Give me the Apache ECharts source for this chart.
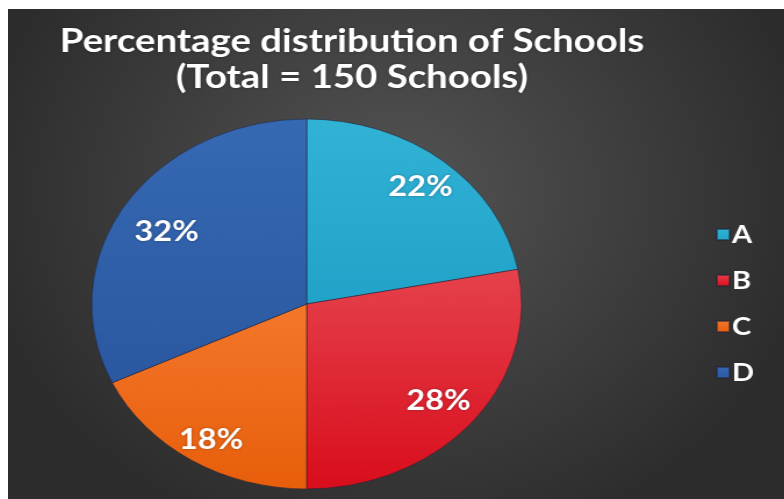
<!DOCTYPE html>
<html>
<head>
<meta charset="utf-8">
<script src="https://cdn.jsdelivr.net/npm/echarts@6/dist/echarts.min.js"></script>
<style>
  html, body { margin: 0; padding: 0; background: #ffffff; width: 784px; height: 499px; overflow: hidden; }
  #frame { position: absolute; left: 8px; top: 9px; width: 776px; height: 490px; overflow: hidden; }
  /* the slide is drawn a little wider than tall, so the pie reads as an ellipse */
  #chart { width: 668px; height: 490px; transform: scaleX(1.162); transform-origin: 0 0; }
</style>
</head>
<body>
<div id="frame"><div id="chart"></div></div>
<script>
// Share of the 150 schools in each category, in percent
const categories = ['A', 'B', 'C', 'D'];
const shares = [22, 28, 18, 32];

const titleLines = ['Percentage distribution of Schools', '(Total = 150 Schools)'];

// slice fills, top -> bottom shade
const sliceShades = [
  ['#31b3d6', '#21a2c8'],
  ['#e5424c', '#d90d1c'],
  ['#f4772a', '#e75e0b'],
  ['#3669b4', '#2b58a0']
];
// nudges that move each percentage label away from the default mid-radius spot
const labelNudge = [[37, -43], [40, 36], [-31, 55], [-40, -21]];

const chart = echarts.init(document.getElementById('chart'), null, { renderer: 'canvas' });

chart.setOption({
  animation: false,
  backgroundColor: {
    type: 'radial', x: 0.5, y: 0.38, r: 0.75,
    colorStops: [
      { offset: 0, color: '#545454' },
      { offset: 1, color: '#2c2c2c' }
    ]
  },
  title: {
    text: titleLines.join('\n'),
    left: 291,
    top: 9,
    textAlign: 'center',
    textStyle: {
      color: '#ffffff',
      fontFamily: 'Lato',
      fontWeight: 'bold',
      fontSize: 33,
      lineHeight: 36,
      textShadowColor: 'rgba(0,0,0,0.35)',
      textShadowBlur: 3
    }
  },
  legend: {
    orient: 'vertical',
    left: 604,
    top: 208,
    itemWidth: 11,
    itemHeight: 11,
    itemGap: 21,
    icon: 'rect',
    textStyle: {
      color: '#ffffff',
      fontFamily: 'Lato',
      fontWeight: 'bold',
      fontSize: 25,
      padding: [0, 0, 0, -3]
    },
    data: categories
  },
  series: [{
    type: 'pie',
    center: [257, 295],
    radius: 185,
    startAngle: 90,
    clockwise: true,
    avoidLabelOverlap: false,
    emphasis: { disabled: true },
    itemStyle: {
      borderColor: 'rgba(35,35,55,0.55)',
      borderWidth: 1
    },
    label: {
      show: true,
      position: 'inside',
      formatter: '{c}%',
      color: '#ffffff',
      fontFamily: 'Lato',
      fontWeight: 'bold',
      fontSize: 28,
      textShadowColor: 'rgba(0,0,0,0.3)',
      textShadowBlur: 3
    },
    labelLine: { show: false },
    labelLayout: function (params) {
      const n = labelNudge[params.dataIndex];
      return { dx: n[0], dy: n[1] };
    },
    data: categories.map(function (name, i) {
      return {
        name: name,
        value: shares[i],
        itemStyle: {
          color: {
            type: 'linear', x: 0, y: 0, x2: 0, y2: 1,
            colorStops: [
              { offset: 0, color: sliceShades[i][0] },
              { offset: 1, color: sliceShades[i][1] }
            ]
          }
        }
      };
    })
  }]
});
</script>
</body>
</html>
